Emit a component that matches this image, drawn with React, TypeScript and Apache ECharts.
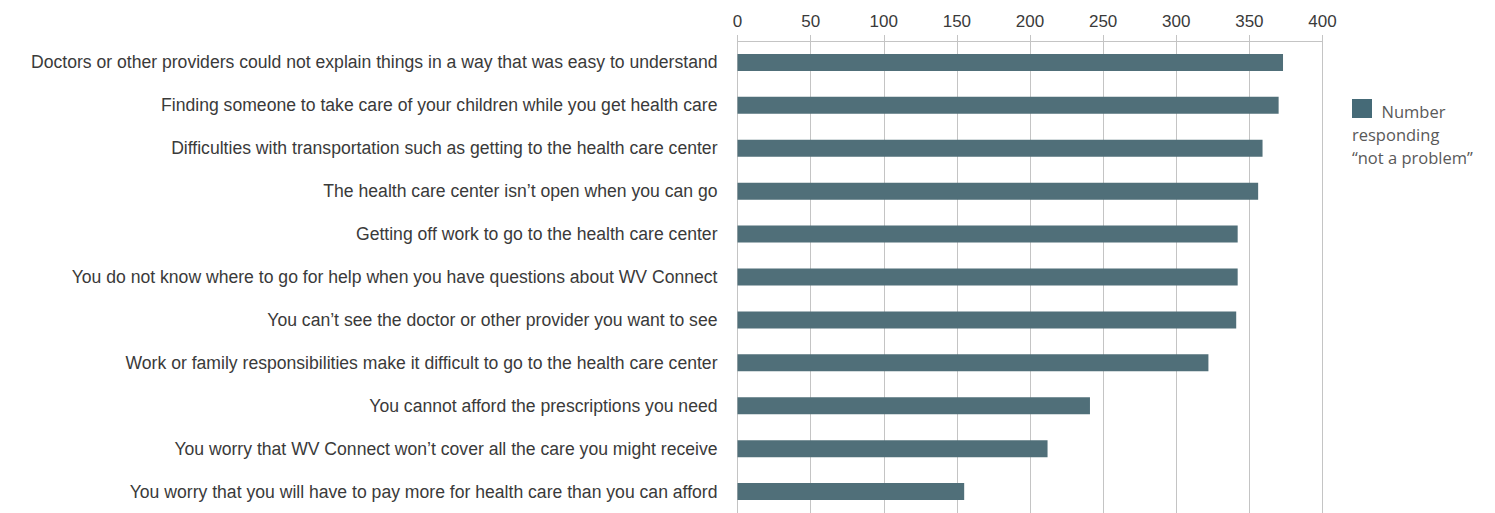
import React, { useEffect, useRef } from "react";
import * as echarts from "echarts";

const categories: string[] = [
  "Doctors or other providers could not explain things in a way that was easy to understand",
  "Finding someone to take care of your children while you get health care",
  "Difficulties with transportation such as getting to the health care center",
  "The health care center isn\u2019t open when you can go",
  "Getting off work to go to the health care center",
  "You do not know where to go for help when you have questions about WV Connect",
  "You can\u2019t see the doctor or other provider you want to see",
  "Work or family responsibilities make it difficult to go to the health care center",
  "You cannot afford the prescriptions you need",
  "You worry that WV Connect won\u2019t cover all the care you might receive",
  "You worry that you will have to pay more for health care than you can afford",
];

const values: number[] = [373, 370, 359, 356, 342, 342, 341, 322, 241, 212, 155];

const seriesName = "Number responding \u201cnot a problem\u201d";
const legendLines: string[] = ["Number", "responding", "\u201cnot a problem\u201d"];

const BAR = "#506f79";
const GRID = "#c4c4c4";
const TEXT = "#3a3a3a";
const FONT = "'Liberation Sans', Arial, sans-serif";

export default function App() {
  const ref = useRef<HTMLDivElement>(null);
  useEffect(() => {
    if (!ref.current) return;
    const chart = echarts.init(ref.current, undefined, { renderer: "svg" });
    chart.setOption({
      animation: false,
      backgroundColor: "#ffffff",
      grid: { left: 729.5, right: 164.5, top: 33, bottom: 0, containLabel: false },
      xAxis: {
        type: "value",
        position: "top",
        min: 0,
        max: 400,
        interval: 50,
        axisLine: { show: true, lineStyle: { color: GRID, width: 1 } },
        axisTick: { show: true, length: 6, lineStyle: { color: GRID } },
        splitLine: { show: true, lineStyle: { color: GRID, width: 1 } },
        axisLabel: {
          color: TEXT,
          fontFamily: FONT,
          fontSize: 17,
          margin: 11,
        },
      },
      yAxis: {
        type: "category",
        inverse: true,
        data: categories,
        axisLine: { show: false },
        axisTick: { show: false },
        axisLabel: {
          color: TEXT,
          fontFamily: FONT,
          fontSize: 17.6,
          margin: 20,
        },
      },
      series: [
        {
          name: seriesName,
          type: "bar",
          data: values,
          barWidth: 17,
          itemStyle: { color: BAR },
        },
      ],
      graphic: [
        {
          type: "rect",
          left: 1344,
          top: 91,
          shape: { width: 20, height: 19 },
          style: { fill: "#456a77" },
        },
        {
          type: "text",
          left: 1373.5,
          top: 95,
          style: {
            text: legendLines[0],
            fill: "#595959",
            font: "16.5px 'Open Sans', sans-serif",
          },
        },
        {
          type: "text",
          left: 1344,
          top: 118,
          style: {
            text: legendLines[1],
            fill: "#595959",
            font: "16.5px 'Open Sans', sans-serif",
          },
        },
        {
          type: "text",
          left: 1344,
          top: 141,
          style: {
            text: legendLines[2],
            fill: "#595959",
            font: "16.5px 'Open Sans', sans-serif",
          },
        },
      ],
    });
    return () => chart.dispose();
  }, []);
  return <div ref={ref} style={{ width: 1479, height: 505 }} />;
}
